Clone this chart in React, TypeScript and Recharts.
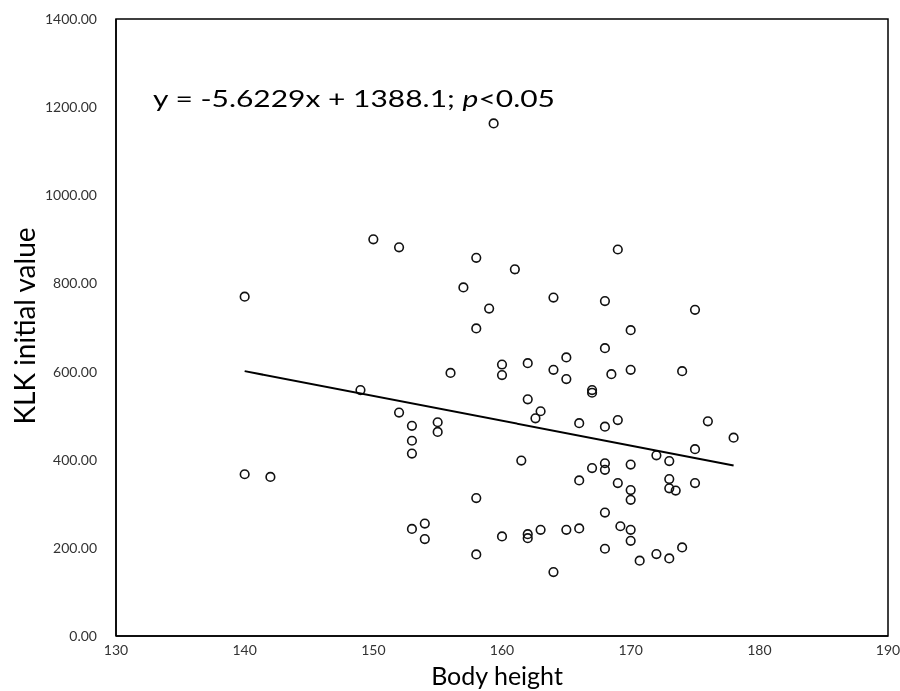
import React from "react";
import { ScatterChart, Scatter, XAxis, YAxis, ReferenceArea } from "recharts";

const heights = [
  140, 140, 142, 149, 150, 152, 152, 153, 153, 153, 153, 154, 154, 155, 155, 156, 157, 158, 158, 158, 158,
  159, 159.35, 160, 160, 160, 161, 161.5, 162, 162, 162, 162, 162.6, 163, 163, 164, 164, 164, 165, 165, 165,
  166, 166, 166, 167, 167, 167, 168, 168, 168, 168, 168, 168, 168, 168.5, 169, 169, 169, 169.2, 170, 170,
  170, 170, 170, 170, 170, 170.7, 172, 172, 173, 173, 173, 173, 173.5, 174, 174, 175, 175, 175, 176, 178,
];
const klkValues = [
  770, 367, 361, 558, 900, 882, 507, 477, 443, 414, 243, 255, 220, 485, 463, 597, 791, 858, 698, 313, 185,
  743, 1163, 616, 592, 226, 832, 398, 619, 537, 231, 222, 494, 510, 241, 768, 604, 145, 632, 583, 241,
  483, 353, 244, 558, 552, 381, 760, 653, 475, 392, 377, 280, 198, 594, 877, 490, 347, 249, 694, 604,
  389, 331, 309, 241, 216, 171, 410, 186, 397, 356, 335, 176, 330, 601, 201, 740, 424, 347, 487, 450,
];
const trendX = [140, 178];
const trendY = [601, 387];
const xTicks = [130, 140, 150, 160, 170, 180, 190];
const yTicks = [0, 200, 400, 600, 800, 1000, 1200, 1400];

const points = heights.map((h, i) => ({ x: h, y: klkValues[i] }));
const trend = trendX.map((x, i) => ({ x, y: trendY[i] }));

const FONT = "Lato, 'Open Sans', sans-serif";

const Ring = (props: any) => (
  <circle cx={props.cx} cy={props.cy} r={4.3} fill="none" stroke="#111" strokeWidth={1.6} />
);

export default function App() {
  return (
    <div style={{ position: "fixed", left: 8, top: 8, width: 892, height: 683 }}>
      <ScatterChart width={892} height={683} margin={{ top: 11, right: 12, bottom: 25, left: 0 }}>
        <XAxis
          type="number"
          dataKey="x"
          domain={[130, 190]}
          ticks={xTicks}
          interval={0}
          tickSize={0}
          tickMargin={9}
          height={30}
          axisLine={{ stroke: "#000", strokeWidth: 1.5 }}
          tick={{ fill: "#333", fontSize: 14, fontFamily: FONT }}
        />
        <YAxis
          type="number"
          dataKey="y"
          domain={[0, 1400]}
          ticks={yTicks}
          interval={0}
          tickSize={0}
          tickMargin={19}
          width={108}
          axisLine={{ stroke: "#000", strokeWidth: 1.5 }}
          tickFormatter={(v: number) => v.toFixed(2)}
          tick={{ fill: "#333", fontSize: 14, fontFamily: FONT }}
        />
        <ReferenceArea x1={130} x2={190} y1={0} y2={1400} fill="none" fillOpacity={0} stroke="#000" strokeWidth={1.5} ifOverflow="visible" />
        <Scatter data={points} shape={Ring} isAnimationActive={false} />
        <Scatter
          data={trend}
          line={{ stroke: "#000", strokeWidth: 2 }}
          shape={() => <g />}
          isAnimationActive={false}
        />
      </ScatterChart>
      <svg
        width={892}
        height={683}
        style={{ position: "absolute", left: 0, top: 0, pointerEvents: "none" }}
      >
        <text
          x={145}
          y={99}
          fontFamily={FONT}
          fontSize={24}
          fill="#000"
          textLength={402}
          lengthAdjust="spacingAndGlyphs"
        >
          y = -5.6229x + 1388.1; <tspan fontStyle="italic">p</tspan>&lt;0.05
        </text>
        <text
          x={489}
          y={677}
          textAnchor="middle"
          fontFamily={FONT}
          fontSize={25}
          fill="#000"
        >
          Body height
        </text>
        <text
          transform="translate(27,318) rotate(-90)"
          textAnchor="middle"
          fontFamily={FONT}
          fontSize={28}
          fill="#000"
        >
          KLK initial value
        </text>
      </svg>
    </div>
  );
}
